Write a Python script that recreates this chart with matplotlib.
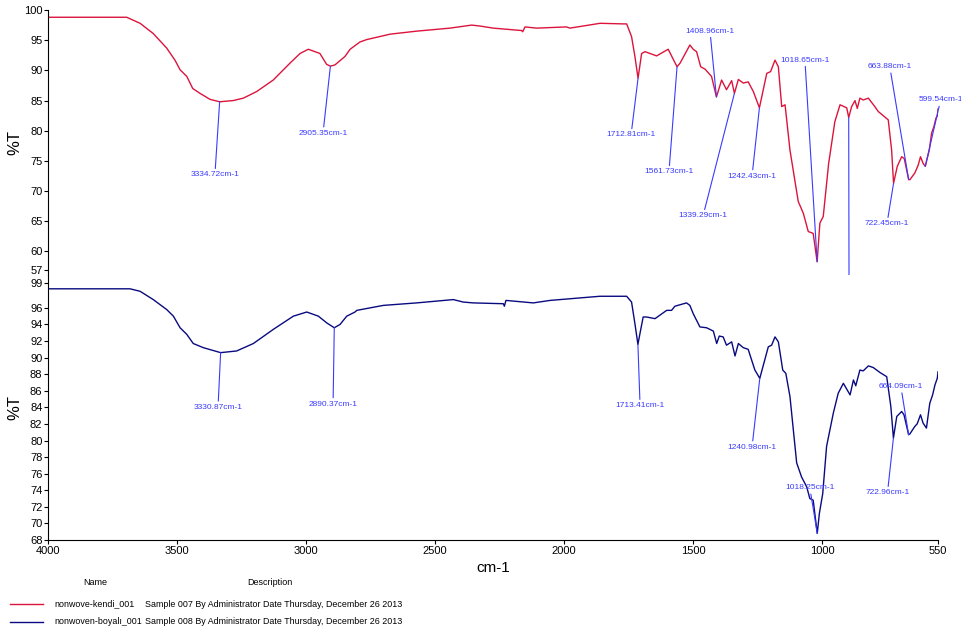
import numpy as np
import matplotlib
matplotlib.use("Agg")
import matplotlib.pyplot as plt
from matplotlib.lines import Line2D

plt.rcParams['font.family'] = ['Liberation Sans', 'DejaVu Sans']

# === SPECTRA (wavenumber cm-1, %T) ===
wn_kendi = [
    4000, 3695, 3643, 3592, 3540, 3508, 3488, 3462, 3439, 3411,
    3372, 3334.72, 3282, 3243, 3191, 3127, 3062, 3023, 2991, 2946,
    2920, 2905.35, 2888, 2849, 2829, 2791, 2765, 2674, 2571, 2442,
    2358, 2326, 2274, 2164, 2160, 2151, 2106, 1990, 1977, 1860,
    1770, 1757, 1738, 1725, 1712.81, 1699, 1686, 1641, 1596, 1561.73,
    1550, 1512, 1499, 1486, 1470, 1453, 1428, 1408.96, 1389, 1370,
    1350, 1339.29, 1324, 1305, 1286, 1266, 1242.43, 1214, 1199, 1182,
    1169, 1156, 1143, 1124, 1092, 1072, 1053, 1034, 1018.65, 1008,
    995, 974, 950, 930, 904, 896.29, 885, 872, 863, 853,
    840, 820, 795, 782, 743, 730, 722.45, 708, 691, 681,
    663.88, 659, 640, 627, 618, 608, 599.54, 584, 575, 566,
    558, 553, 550,
]
t_kendi = [
    98.8, 98.8, 97.8, 96.1, 93.7, 91.7, 90.1, 89.0, 87.0, 86.2,
    85.2, 84.8, 85.0, 85.4, 86.5, 88.4, 91.2, 92.8, 93.5, 92.8,
    91.0, 90.7, 90.9, 92.3, 93.5, 94.7, 95.1, 96.0, 96.5, 97.0,
    97.5, 97.35, 97.0, 96.6, 96.4, 97.2, 97.0, 97.2, 97.0, 97.8,
    97.7, 97.7, 95.6, 92.3, 88.7, 92.8, 93.1, 92.4, 93.5, 90.6,
    91.2, 94.2, 93.5, 93.1, 90.6, 90.2, 89.0, 85.6, 88.4, 86.8,
    88.3, 86.2, 88.5, 87.9, 88.1, 86.5, 83.8, 89.5, 89.8, 91.7,
    90.6, 84.0, 84.3, 76.8, 68.3, 66.3, 63.3, 63.0, 58.3, 64.7,
    65.8, 74.6, 81.5, 84.3, 83.8, 82.2, 84.0, 85.0, 83.7, 85.4,
    85.1, 85.4, 84.0, 83.2, 81.8, 76.8, 71.3, 74.1, 75.7, 75.4,
    71.9, 71.9, 73.0, 74.3, 75.7, 74.6, 74.1, 76.8, 79.6, 80.7,
    82.1, 82.4, 83.6,
]

wn_boyali = [
    4000, 3682, 3643, 3592, 3540, 3514, 3488, 3462, 3437, 3398,
    3330.87, 3269, 3204, 3127, 3049, 2997, 2952, 2920, 2890.37, 2868,
    2842, 2810, 2803, 2700, 2571, 2429, 2390, 2352, 2235, 2231,
    2225, 2119, 2054, 1861, 1848, 1757, 1738, 1725, 1713.41, 1703,
    1693, 1680, 1647, 1602, 1583, 1570, 1525, 1512, 1499, 1473,
    1447, 1421, 1408, 1398, 1383, 1370, 1350, 1337, 1324, 1305,
    1286, 1260, 1240.98, 1208, 1195, 1182, 1169, 1152, 1140, 1124,
    1098, 1079, 1059, 1047, 1034, 1018.25, 1010, 997, 982, 956,
    937, 917, 891, 878, 869, 853, 840, 820, 801, 775,
    749, 733, 722.96, 710, 691, 682, 664.09, 659, 640, 631,
    618, 608, 595, 582, 571, 562, 553, 550,
]
t_boyali = [
    98.3, 98.3, 98.0, 97.0, 95.8, 95.0, 93.6, 92.8, 91.7, 91.2,
    90.6, 90.8, 91.7, 93.4, 95.0, 95.5, 95.0, 94.2, 93.6, 94.0,
    95.0, 95.5, 95.7, 96.3, 96.6, 97.0, 96.7, 96.6, 96.5, 96.2,
    96.9, 96.6, 96.9, 97.4, 97.4, 97.4, 96.7, 94.1, 91.6, 93.3,
    94.9, 94.9, 94.7, 95.7, 95.7, 96.2, 96.6, 96.3, 95.3, 93.7,
    93.6, 93.2, 91.7, 92.6, 92.5, 91.5, 91.9, 90.2, 91.7, 91.2,
    91.0, 88.5, 87.5, 91.3, 91.5, 92.5, 91.9, 88.5, 88.1, 85.3,
    77.3, 75.6, 74.4, 73.0, 72.8, 68.8, 71.2, 73.6, 79.3, 83.3,
    85.7, 86.9, 85.5, 87.3, 86.6, 88.5, 88.4, 89.0, 88.8, 88.2,
    87.7, 84.1, 80.3, 82.9, 83.5, 83.1, 80.7, 80.8, 81.7, 82.0,
    83.1, 82.1, 81.5, 84.5, 85.5, 86.7, 87.5, 88.3,
]

# === PICKED PEAKS ===
peaks_kendi = [3334.72, 2905.35, 1712.81, 1561.73, 1408.96, 1339.29,
               1242.43, 1018.65, 896.29, 722.45, 663.88, 599.54]
peaks_boyali = [3330.87, 2890.37, 1713.41, 1240.98, 1018.25, 722.96, 664.09]

# where each peak label sits (wavenumber, %T)
label_pos_kendi = [(3353, 72.7), (2934, 79.6), (1740, 79.3), (1593, 73.2),
                   (1434, 96.5), (1461, 65.9), (1271, 72.5), (1066, 91.7),
                   (895, 52.5), (748, 64.6), (737, 90.6), (540, 85.1)]
label_pos_boyali = [(3341, 84.0), (2895, 84.4), (1705, 84.2), (1271, 79.2),
                    (1047, 74.3), (746, 73.7), (694, 86.5)]

# === LEGEND TABLE ===
sample_names = ["nonwove-kendi_001", "nonwoven-boyalı_001"]
sample_desc = ["Sample 007 By Administrator Date Thursday, December 26 2013",
               "Sample 008 By Administrator Date Thursday, December 26 2013"]

x_ticks = [4000, 3500, 3000, 2500, 2000, 1500, 1000, 550]
y_ticks_top = [100, 95, 90, 85, 80, 75, 70, 65, 60, 57]
y_ticks_bottom = [99, 96, 94, 92, 90, 88, 86, 84, 82, 80, 78, 76, 74, 72, 70, 68]

RED = "#dc143c"
NAVY = "#0a0a80"
PEAK_BLUE = "#3a3aff"


def style_axis(ax, yticks, show_x):
    ax.set_xlim(4000, 550)
    ax.set_yticks(yticks)
    ax.spines["top"].set_visible(False)
    ax.spines["right"].set_visible(False)
    ax.tick_params(direction="out", length=3, width=0.8, labelsize=8, pad=1)
    if show_x:
        ax.set_xticks(x_ticks)
    else:
        ax.spines["bottom"].set_visible(False)
        ax.set_xticks([])
    ax.set_ylabel("%T", fontsize=12)
    ax.yaxis.set_label_coords(-0.029, 0.5)


def mark_peaks(ax, wn, t, peaks, positions):
    wn_arr = np.asarray(wn)[::-1]
    t_arr = np.asarray(t)[::-1]
    for peak, (tx, ty) in zip(peaks, positions):
        tip = np.interp(peak, wn_arr, t_arr)
        ax.annotate(f"{peak:.2f}cm-1", xy=(peak, tip), xytext=(tx, ty),
                    ha="center", va="center", fontsize=6, color=PEAK_BLUE,
                    annotation_clip=False,
                    arrowprops=dict(arrowstyle="-", color=PEAK_BLUE, lw=0.8,
                                    shrinkA=0, shrinkB=0))


fig = plt.figure(figsize=(9.62, 6.34), dpi=100)
ax_top = fig.add_axes([0.0499, 0.5662, 0.9252, 0.4180])
ax_bot = fig.add_axes([0.0499, 0.1483, 0.9252, 0.4180])

ax_top.plot(wn_kendi, t_kendi, color=RED, lw=1.0)
ax_top.set_ylim(56.1, 100)
style_axis(ax_top, y_ticks_top, show_x=False)
mark_peaks(ax_top, wn_kendi, t_kendi, peaks_kendi, label_pos_kendi)

ax_bot.plot(wn_boyali, t_boyali, color=NAVY, lw=1.0)
ax_bot.set_ylim(68, 99.97)
style_axis(ax_bot, y_ticks_bottom, show_x=True)
ax_bot.set_xlabel("cm-1", fontsize=11, labelpad=4)
mark_peaks(ax_bot, wn_boyali, t_boyali, peaks_boyali, label_pos_boyali)

# name / description table under the plot
fig.text(0.099, 0.082, "Name", ha="center", va="center", fontsize=6.5)
fig.text(0.281, 0.082, "Description", ha="center", va="center", fontsize=6.5)
for i, (name, desc, color) in enumerate(zip(sample_names, sample_desc, [RED, NAVY])):
    y = 0.047 - i * 0.028
    fig.add_artist(Line2D([0.010, 0.045], [y, y], color=color, lw=1.0))
    fig.text(0.057, y, name, ha="left", va="center", fontsize=6.4)
    fig.text(0.151, y, desc, ha="left", va="center", fontsize=6.4)

fig.savefig("out.png", dpi=100)
